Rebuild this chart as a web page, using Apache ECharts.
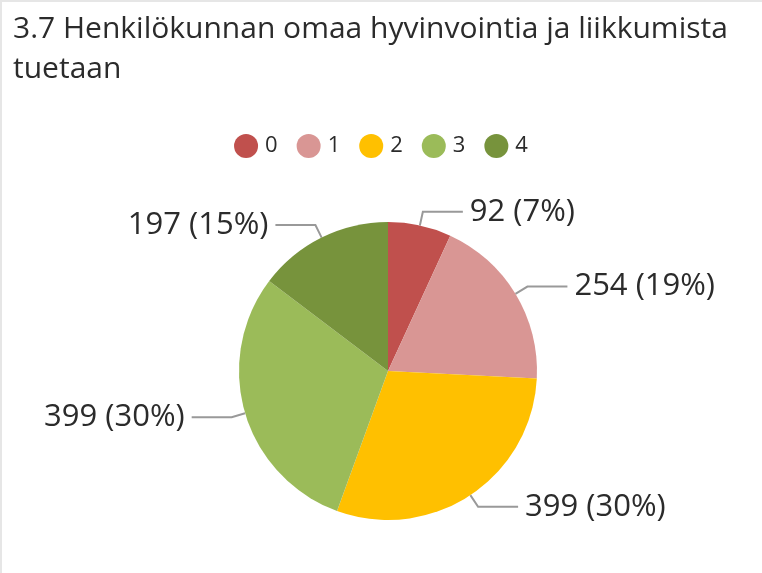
<!DOCTYPE html>
<html>
<head>
<meta charset="utf-8">
<script src="https://cdn.jsdelivr.net/npm/echarts@6/dist/echarts.min.js"></script>
<style>
html,body{margin:0;padding:0;background:#fff;}
#chart{width:762px;height:573px;}
</style>
</head>
<body>
<div id="chart"></div>
<script>
const titleText = '3.7 Henkilökunnan omaa hyvinvointia ja liikkumista\ntuetaan';
const categories = ['0', '1', '2', '3', '4'];
const values = [92, 254, 399, 399, 197];
const colors = ['#C0504D', '#D99694', '#FFC000', '#9BBB59', '#77933C'];

const FONT = 'Open Sans';
const chart = echarts.init(document.getElementById('chart'));
chart.setOption({
  animation: false,
  color: colors,
  title: {
    text: titleText,
    left: 8,
    top: 4,
    textStyle: {fontFamily: FONT, fontSize: 30, fontWeight: 'normal', color: '#2b2b2b', lineHeight: 40}
  },
  legend: {
    data: categories,
    top: 129,
    left: 'center',
    icon: 'circle',
    itemWidth: 24,
    itemHeight: 24,
    itemGap: 19,
    textStyle: {fontFamily: FONT, fontSize: 22, color: '#2b2b2b', padding: [0,0,0,2]}
  },
  graphic: [
    {type: 'rect', shape: {x: 0, y: 0, width: 762, height: 2}, style: {fill: '#e6e6e6'}},
    {type: 'rect', shape: {x: 0, y: 0, width: 2, height: 573}, style: {fill: '#e6e6e6'}}
  ],
  series: [{
    type: 'pie',
    center: [388, 371],
    radius: 149,
    startAngle: 90,
    clockwise: true,
    data: categories.map((c, i) => ({name: c, value: values[i]})),
    itemStyle: {borderWidth: 0},
    label: {
      show: true,
      formatter: p => p.value + ' (' + Math.round(p.percent) + '%)',
      fontFamily: FONT,
      fontSize: 31,
      color: '#2b2b2b',
      distanceToLabelLine: 7
    },
    labelLine: {length: 14, length2: 40, lineStyle: {color: '#999', width: 2}},
    emphasis: {disabled: true}
  }]
});
</script>
</body>
</html>
